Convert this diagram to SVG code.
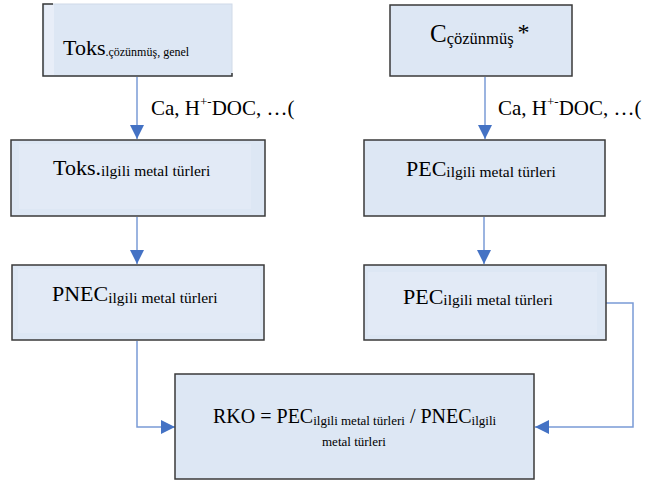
<svg xmlns="http://www.w3.org/2000/svg" width="649" height="483" viewBox="0 0 649 483">
<style>
.box{fill:#dde7f4;stroke:#3a3a3a;stroke-width:1.5}
.inner{fill:#e2eaf6;stroke:none}
.t{font-family:"Liberation Serif","Times New Roman",serif;fill:#000}
.big{font-size:22px}
.sub{font-size:15.5px}
.lbl{font-size:21px}
.ln{fill:none;stroke:#7a9bd6;stroke-width:1.5}
</style>
<defs>
<marker id="ah" viewBox="0 0 10 10" refX="10" refY="5" markerWidth="14" markerHeight="15" markerUnits="userSpaceOnUse" orient="auto">
<path d="M0,0 L10,5 L0,10 Z" fill="#4472c4"/>
</marker>
</defs>
<rect width="649" height="483" fill="#fff"/>
<g id="connectors">
<line class="ln" x1="137" y1="77" x2="137" y2="139" marker-end="url(#ah)"/>
<line class="ln" x1="485" y1="77" x2="485" y2="139" marker-end="url(#ah)"/>
<line class="ln" x1="137" y1="217" x2="137" y2="264" marker-end="url(#ah)"/>
<line class="ln" x1="484" y1="217" x2="484" y2="264" marker-end="url(#ah)"/>
<polyline class="ln" points="137,341 137,427 175,427" marker-end="url(#ah)"/>
<polyline class="ln" points="606,303 633,303 633,427 535,427" marker-end="url(#ah)"/>
<text class="t lbl" x="151" y="115">Ca, H<tspan font-size="13" dy="-9">+-</tspan><tspan dy="9">DOC, …(</tspan></text>
<text class="t lbl" x="498" y="115">Ca, H<tspan font-size="13" dy="-9">+-</tspan><tspan dy="9">DOC, …(</tspan></text>
</g>
<g id="n1">
<rect x="43" y="4" width="189" height="72" fill="#dde7f4" stroke="#d0dae8" stroke-width="1"/>
<rect x="45" y="5" width="9" height="70" fill="#e8eef8"/>
<path d="M53,4 H43 V76 H232 V73" fill="none" stroke="#3a3a3a" stroke-width="1.5"/>
<text class="t big" x="63" y="55">Toks<tspan font-size="12" dy="1">.çözünmüş,  genel</tspan></text>
</g>
<g id="n2">
<rect class="box" x="390" y="5" width="182" height="71"/>
<text class="t" x="430" y="42" font-size="25">C<tspan font-size="16.5" dy="2">çözünmüş</tspan><tspan font-size="24" dx="4" dy="-4">*</tspan></text>
</g>
<g id="n3">
<rect class="box" x="11" y="140" width="254" height="76"/>
<rect class="inner" x="19" y="144" width="232" height="65"/>
<text class="t big" x="53" y="175">Toks.<tspan class="sub" dy="1">ilgili metal türleri</tspan></text>
</g>
<g id="n4">
<rect class="box" x="364" y="140" width="241" height="76"/>
<text class="t big" x="406" y="176">PEC<tspan class="sub" font-size="16.5" dy="1">ilgili metal türleri</tspan></text>
</g>
<g id="n5">
<rect class="box" x="12" y="265" width="252" height="75"/>
<rect class="inner" x="18" y="269" width="242" height="64"/>
<text class="t big" x="52" y="301">PNEC<tspan class="sub" dy="2">ilgili metal türleri</tspan></text>
</g>
<g id="n6">
<rect class="box" x="364" y="265" width="242" height="75"/>
<rect class="inner" x="368" y="272" width="229" height="63"/>
<text class="t big" x="403" y="304">PEC<tspan class="sub" dy="1">ilgili metal türleri</tspan></text>
</g>
<g id="n7">
<rect class="box" x="175" y="374" width="359" height="105"/>
<text class="t" x="213" y="423" font-size="20">RKO = PEC<tspan font-size="13" dy="2">ilgili metal türleri</tspan><tspan dy="-2"> / PNEC</tspan><tspan font-size="13" dy="2">ilgili</tspan></text>
<text class="t" x="322" y="446" font-size="13">metal türleri</text>
</g>
</svg>
